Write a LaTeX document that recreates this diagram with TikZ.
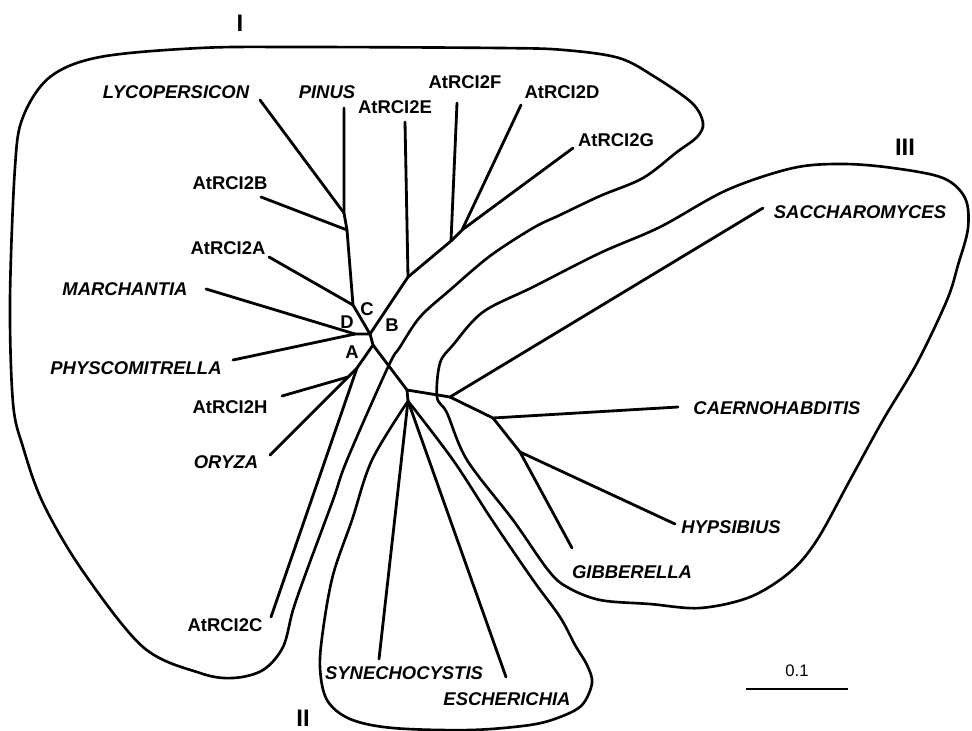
\documentclass[tikz,border=0pt]{standalone}
\usepackage{fontspec}
\setmainfont{Liberation Sans}
\usetikzlibrary{positioning}

\tikzset{
    branch/.style={line width=1.6pt, line join=round, line cap=round},
    clade/.style={line width=1.5pt},
    gene/.style={font=\fontsize{10.5}{12}\selectfont\bfseries, inner sep=0pt},
    taxon/.style={font=\fontsize{10.5}{12}\selectfont\bfseries\itshape, inner sep=0pt},
    group/.style={font=\fontsize{13.6}{16}\selectfont\bfseries, inner sep=0pt}
}

\begin{document}
\begin{tikzpicture}[x=0.02cm, y=-0.02cm]
    \useasboundingbox (0,0) rectangle (972,730);

    % Internal nodes
    \coordinate (n0) at (370,334);
    \coordinate (nC) at (353,305);
    \coordinate (nB) at (347,230);
    \coordinate (nL) at (344,213);
    \coordinate (nD) at (355,334);
    \coordinate (n1) at (373,345);
    \coordinate (nA) at (357,368);
    \coordinate (nH) at (348,377);
    \coordinate (nE) at (408,277);
    \coordinate (nF) at (451,241);
    \coordinate (nG) at (462,230);
    \coordinate (n2) at (407,390);
    \coordinate (nS) at (408,401);
    \coordinate (n3) at (450,397);
    \coordinate (n4) at (493,418);
    \coordinate (n5) at (520,452);

    % Leaves
    \coordinate (lyco) at (260,100);
    \coordinate (pinus) at (344,108);
    \coordinate (rciB) at (261,197);
    \coordinate (rciA) at (269,257);
    \coordinate (march) at (206,289);
    \coordinate (physco) at (233,360);
    \coordinate (rciH) at (282,396);
    \coordinate (oryza) at (270,455);
    \coordinate (rciC) at (271,617);
    \coordinate (rciE) at (405,122);
    \coordinate (rciF) at (457,103);
    \coordinate (rciD) at (521,105);
    \coordinate (rciG) at (573,148);
    \coordinate (sacch) at (763,208);
    \coordinate (caer) at (678,407);
    \coordinate (hyps) at (675,524);
    \coordinate (gibb) at (572,548);
    \coordinate (syn) at (379,659);
    \coordinate (esch) at (506,677);

    % Tree
    \draw[branch] (n0) -- (nC) -- (nB) -- (nL) -- (pinus);
    \draw[branch] (nL) -- (lyco);
    \draw[branch] (nB) -- (rciB);
    \draw[branch] (nC) -- (rciA);
    \draw[branch] (n0) -- (nD) -- (march);
    \draw[branch] (nD) -- (physco);
    \draw[branch] (n0) -- (n1) -- (nA) -- (nH) -- (oryza);
    \draw[branch] (nH) -- (rciH);
    \draw[branch] (nA) -- (rciC);
    \draw[branch] (n0) -- (nE) -- (rciE);
    \draw[branch] (nE) -- (nF) -- (rciF);
    \draw[branch] (nF) -- (nG) -- (rciD);
    \draw[branch] (nG) -- (rciG);
    \draw[branch] (n1) -- (n2) -- (nS) -- (syn);
    \draw[branch] (nS) -- (esch);
    \draw[branch] (n2) -- (n3) -- (sacch);
    \draw[branch] (n3) -- (n4) -- (caer);
    \draw[branch] (n4) -- (n5) -- (hyps);
    \draw[branch] (n5) -- (gibb);

    % Clade I
    \draw[clade] plot[smooth cycle, tension=0.55] coordinates {
        (703,123) (692,103) (655,77) (619,58) (564,50) (500,48) (300,47)
        (200,48) (100,57) (50,77) (23,117) (15,167) (10,300) (13,403)
        (23,447) (43,503) (82,570) (143,647) (200,673) (233,678) (263,670)
        (283,647) (293,610) (307,570) (333,500) (347,460) (388,367)
        (400,347) (420,317) (450,290) (490,256) (533,228) (560,215)
        (600,196) (643,178) (677,152) (697,137)};

    % Clade II
    \draw[clade] plot[smooth, tension=0.55] coordinates {
        (nS) (372,460) (352,520) (333,575) (323,630) (320,668) (327,700)
        (350,719) (393,728) (470,730) (530,725) (560,717) (582,705)
        (592,683) (587,665) (575,645) (560,617) (533,580) (492,520)
        (453,460) (nS)};

    % Clade III
    \draw[clade] plot[smooth cycle, tension=0.55] coordinates {
        (437,397) (440,363) (453,345) (483,312) (533,287) (600,253)
        (660,227) (727,190) (793,168) (843,164) (893,168) (943,178)
        (965,198) (968,228) (958,265) (947,300) (917,363) (883,420)
        (850,480) (817,540) (790,572) (750,597) (700,608) (650,604)
        (600,600) (567,587) (548,570) (513,520) (467,460) (447,413)};

    % Labels
    \node[taxon] (tLyco) at (176,92) {LYCOPERSICON};
    \node[taxon] (tPinus) at (327,92) {PINUS};
    \node[gene] (tRciE) at (395,107) {AtRCI2E};
    \node[gene] (tRciF) at (465,82) {AtRCI2F};
    \node[gene] (tRciD) at (562,92) {AtRCI2D};
    \node[gene] (tRciG) at (616,140) {AtRCI2G};
    \node[gene] (tRciB) at (230,183) {AtRCI2B};
    \node[gene] (tRciA) at (228,248) {AtRCI2A};
    \node[taxon] (tMarch) at (125,289) {MARCHANTIA};
    \node[taxon] (tPhysco) at (136,368) {PHYSCOMITRELLA};
    \node[gene] (tRciH) at (230,407) {AtRCI2H};
    \node[taxon] (tOryza) at (226,462) {ORYZA};
    \node[gene] (tRciC) at (225,625) {AtRCI2C};
    \node[taxon] (tSyn) at (404,673) {SYNECHOCYSTIS};
    \node[taxon] (tEsch) at (507,699) {ESCHERICHIA};
    \node[taxon] (tGibb) at (632,572) {GIBBERELLA};
    \node[taxon] (tHyps) at (731,527) {HYPSIBIUS};
    \node[taxon] (tCaer) at (777,408) {CAERNOHABDITIS};
    \node[taxon] (tSacch) at (860,212) {SACCHAROMYCES};

    % Branch letters
    \node[gene] (bA) at (352,352) {A};
    \node[gene] (bB) at (392,325) {B};
    \node[gene] (bC) at (367,309) {C};
    \node[gene] (bD) at (347,322) {D};

    % Groups
    \node[group] (gI) at (240,23) {I};
    \node[group] (gII) at (303,718) {II};
    \node[group] (gIII) at (905,147) {III};

    % Scale bar
    \coordinate (sL) at (746,689);
    \coordinate (sR) at (848,689);
    \draw[line width=1.6pt] (sL) -- (sR) node[midway, above=3pt, font=\fontsize{9.5}{11}\selectfont] (sLab) {0.1};
\end{tikzpicture}
\end{document}
